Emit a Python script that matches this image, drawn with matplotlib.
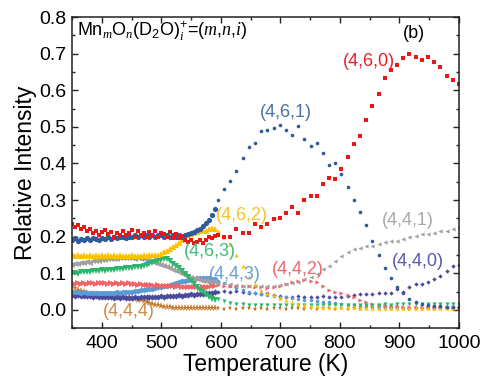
import numpy as np
import matplotlib
matplotlib.use("Agg")
import matplotlib.pyplot as plt

plt.rcParams['font.family'] = ['Liberation Sans', 'DejaVu Sans']
plt.rcParams['mathtext.fontset'] = 'custom'
plt.rcParams['mathtext.rm'] = 'Liberation Sans'
plt.rcParams['mathtext.it'] = 'Liberation Serif:italic'

# Temperature grids (K): dense low-T scan and sparse high-T scan
T_dense = np.arange(350, 591, 5)
T_sparse = np.linspace(595, 1000, 40)

# (4,6,0)
red_d = [0.235,0.225,0.232,0.22,0.226,0.215,0.222,0.21,0.216,0.205,
         0.212,0.218,0.206,0.212,0.2,0.211,0.205,0.216,0.204,0.21,
         0.217,0.2,0.214,0.205,0.21,0.2,0.212,0.204,0.216,0.2,
         0.21,0.206,0.2,0.212,0.196,0.206,0.196,0.202,0.19,0.186,
         0.19,0.182,0.186,0.19,0.182,0.19,0.2,0.196,0.202]
red_s = [0.205,0.2,0.2,0.22,0.21,0.21,0.235,0.225,0.235,0.248,
         0.25,0.265,0.28,0.265,0.3,0.31,0.312,0.343,0.36,0.358,
         0.385,0.418,0.454,0.474,0.518,0.557,0.59,0.632,0.655,0.67,
         0.688,0.698,0.69,0.682,0.69,0.677,0.664,0.638,0.627,0.616]
# (4,6,1)
blue_d = [0.19,0.195,0.188,0.194,0.19,0.196,0.19,0.195,0.193,0.19,
          0.195,0.194,0.198,0.194,0.2,0.195,0.199,0.2,0.196,0.2,
          0.2,0.204,0.2,0.205,0.2,0.204,0.2,0.205,0.2,0.204,
          0.205,0.2,0.205,0.2,0.204,0.2,0.205,0.2,0.205,0.208,
          0.21,0.213,0.218,0.222,0.228,0.236,0.245,0.26,0.275]
blue_s = [0.3,0.33,0.352,0.378,0.416,0.445,0.457,0.488,0.492,0.497,
          0.506,0.492,0.478,0.501,0.468,0.448,0.457,0.429,0.397,0.4,
          0.37,0.335,0.3,0.267,0.232,0.189,0.151,0.113,0.086,0.061,
          0.045,0.029,0.02,0.015,0.012,0.01,0.01,0.008,0.008,0.008]
# (4,6,2)
yellow_d = [0.152,0.148,0.15,0.146,0.15,0.148,0.151,0.147,0.15,0.148,
            0.151,0.147,0.149,0.146,0.15,0.147,0.149,0.146,0.148,0.147,
            0.149,0.146,0.148,0.147,0.149,0.148,0.15,0.149,0.15,0.151,
            0.153,0.157,0.162,0.167,0.172,0.177,0.183,0.19,0.197,0.204,
            0.208,0.21,0.213,0.216,0.218,0.215,0.22,0.224,0.222]
yellow_s = [0.215,0.2,0.18,0.15,0.12,0.09,0.07,0.055,0.045,0.04,
            0.032,0.026,0.02,0.016,0.013,0.011,0.01,0.009,0.008,0.008,
            0.007,0.007,0.007,0.006,0.006,0.006,0.006,0.005,0.005,0.005,
            0.005,0.005,0.005,0.005,0.005,0.005,0.005,0.005,0.005,0.005]
# (4,6,3)
green_d = [0.1,0.101,0.099,0.103,0.102,0.104,0.103,0.106,0.105,0.107,
           0.108,0.107,0.109,0.11,0.109,0.111,0.112,0.111,0.113,0.114,
           0.115,0.116,0.117,0.118,0.12,0.122,0.124,0.127,0.13,0.133,
           0.136,0.14,0.138,0.133,0.126,0.12,0.113,0.106,0.098,0.09,
           0.08,0.07,0.062,0.055,0.048,0.04,0.034,0.03,0.027]
green_s = [0.03,0.024,0.019,0.016,0.015,0.014,0.014,0.013,0.013,0.012,
           0.013,0.012,0.012,0.013,0.012,0.012,0.013,0.012,0.012,0.013,
           0.013,0.012,0.013,0.014,0.013,0.014,0.014,0.015,0.014,0.015,
           0.015,0.016,0.015,0.016,0.016,0.015,0.016,0.016,0.017,0.016]
# (4,4,1)
gray_d = [0.122,0.125,0.124,0.128,0.127,0.13,0.129,0.132,0.133,0.134,
          0.136,0.137,0.138,0.139,0.14,0.14,0.141,0.142,0.141,0.142,
          0.141,0.14,0.141,0.139,0.138,0.136,0.134,0.132,0.129,0.126,
          0.122,0.119,0.116,0.114,0.11,0.106,0.102,0.098,0.094,0.09,
          0.087,0.085,0.083,0.081,0.08,0.078,0.077,0.076,0.075]
gray_s = [0.074,0.072,0.07,0.068,0.066,0.065,0.064,0.064,0.065,0.066,
          0.068,0.07,0.073,0.077,0.083,0.09,0.099,0.112,0.12,0.134,
          0.148,0.157,0.166,0.17,0.175,0.175,0.18,0.184,0.189,0.189,
          0.193,0.198,0.203,0.207,0.207,0.21,0.216,0.216,0.222,0.225]
# (4,4,2)
pink_d = [0.072,0.07,0.074,0.071,0.073,0.07,0.074,0.072,0.071,0.073,
          0.072,0.074,0.071,0.073,0.07,0.072,0.071,0.073,0.07,0.072,
          0.07,0.071,0.069,0.07,0.068,0.069,0.067,0.068,0.066,0.067,
          0.066,0.065,0.066,0.064,0.065,0.063,0.064,0.062,0.063,0.062,
          0.063,0.061,0.062,0.06,0.062,0.061,0.063,0.064,0.066]
pink_s = [0.068,0.066,0.065,0.064,0.065,0.064,0.062,0.062,0.06,0.062,
          0.066,0.07,0.076,0.08,0.082,0.08,0.075,0.065,0.055,0.05,
          0.045,0.04,0.035,0.028,0.022,0.017,0.013,0.012,0.01,0.01,
          0.009,0.009,0.008,0.008,0.008,0.007,0.007,0.007,0.007,0.006]
# (4,4,3)
lblue_d = [0.05,0.048,0.049,0.047,0.048,0.046,0.047,0.045,0.046,0.045,
           0.046,0.045,0.046,0.047,0.046,0.048,0.047,0.049,0.048,0.05,
           0.05,0.052,0.052,0.054,0.055,0.056,0.057,0.058,0.06,0.061,
           0.062,0.064,0.066,0.068,0.07,0.073,0.075,0.078,0.08,0.082,
           0.084,0.085,0.086,0.087,0.088,0.087,0.086,0.085,0.083]
lblue_s = [0.078,0.072,0.066,0.06,0.055,0.05,0.046,0.043,0.04,0.038,
           0.036,0.034,0.032,0.03,0.028,0.026,0.024,0.022,0.02,0.018,
           0.016,0.014,0.012,0.011,0.01,0.009,0.008,0.008,0.007,0.007,
           0.006,0.006,0.006,0.005,0.005,0.005,0.005,0.005,0.005,0.005]
# (4,4,0)
purple_d = [0.04,0.039,0.04,0.038,0.039,0.037,0.038,0.036,0.037,0.035,
            0.036,0.035,0.034,0.035,0.033,0.034,0.033,0.034,0.032,0.033,
            0.033,0.034,0.033,0.034,0.035,0.034,0.035,0.036,0.035,0.036,
            0.037,0.036,0.038,0.037,0.039,0.038,0.04,0.039,0.041,0.04,
            0.042,0.041,0.043,0.044,0.043,0.045,0.046,0.047,0.048]
purple_s = [0.05,0.052,0.05,0.052,0.048,0.045,0.047,0.044,0.045,0.04,
            0.038,0.035,0.036,0.037,0.035,0.036,0.035,0.037,0.036,0.034,
            0.035,0.038,0.04,0.044,0.042,0.044,0.045,0.045,0.047,0.057,
            0.05,0.063,0.07,0.07,0.075,0.085,0.093,0.107,0.12,0.123]
# (4,4,4)
orange_d = [0.065,0.06,0.055,0.051,0.048,0.046,0.044,0.043,0.042,0.041,
            0.04,0.04,0.039,0.038,0.038,0.037,0.037,0.036,0.036,0.034,
            0.032,0.03,0.028,0.026,0.023,0.021,0.018,0.016,0.014,0.012,
            0.01,0.009,0.008,0.007,0.006,0.006,0.005,0.005,0.005,0.004,
            0.004,0.004,0.004,0.004,0.004,0.004,0.004,0.004,0.004]
orange_s = [0.004,0.003,0.004,0.003,0.004,0.004,0.003,0.004,0.003,0.004,
            0.004,0.003,0.004,0.004,0.003,0.004,0.003,0.004,0.004,0.003,
            0.004,0.003,0.004,0.003,0.004,0.004,0.003,0.004,0.003,0.004,
            0.004,0.003,0.004,0.003,0.004,0.003,0.004,0.004,0.003,0.004]

labels = ['(4,4,4)', '(4,4,0)', '(4,4,3)', '(4,4,2)', '(4,4,1)',
          '(4,6,3)', '(4,6,2)', '(4,6,1)', '(4,6,0)']
series = [(orange_d, orange_s), (purple_d, purple_s), (lblue_d, lblue_s),
          (pink_d, pink_s), (gray_d, gray_s), (green_d, green_s),
          (yellow_d, yellow_s), (blue_d, blue_s), (red_d, red_s)]
colors = ['#C8772A', '#4A4A9C', '#5B9BD5', '#F06468', '#A0A0A0',
          '#2DB56A', '#FFC000', '#2E5C9A', '#F01515']
markers = ['*', 'D', 'h', '>', '<', 'v', '^', 'o', 's']
msize = [3.6, 2.2, 2.8, 3.0, 3.0, 3.0, 3.0, 2.6, 2.4]

label_colors = ['#D08A45', '#5A58A8', '#6AA0D8', '#EE6A6E', '#A8A8A8',
                '#3DBE78', '#F7C22A', '#4A72A8', '#E8202A']
label_pos = [(446, -0.005), (931, 0.131), (624, 0.097), (729, 0.111), (914, 0.245),
             (581, 0.158), (635, 0.258), (709, 0.539), (848, 0.678)]

fig = plt.figure(figsize=(4.81, 3.78), dpi=100)
ax = fig.add_axes([0.15, 0.132, 0.804, 0.823])

for (d, s), c, m, ms in zip(series, colors, markers, msize):
    ax.plot(T_dense, d, linestyle='none', marker=m, color=c,
            markersize=ms * 1.45, markeredgewidth=0)
    ax.plot(T_sparse, s, linestyle='none', marker=m, color=c,
            markersize=ms, markeredgewidth=0)

for lab, c, (x, y) in zip(labels, label_colors, label_pos):
    ax.text(x, y, lab, color=c, fontsize=13, ha='center', va='center')

ax.text(0.012, 0.955, r'Mn$_{m}$O$_{n}$(D$_2$O)$_{i}^{+}$=($m$,$n$,$i$)',
        transform=ax.transAxes, fontsize=13, ha='left', va='center')
ax.text(925, 0.755, '(b)', fontsize=13, ha='center', va='center')

ax.set_xlim(350, 1000)
ax.set_ylim(-0.05, 0.8)
ax.set_xticks([400, 500, 600, 700, 800, 900, 1000])
ax.set_xticks(np.arange(350, 1001, 50), minor=True)
ax.set_yticks(np.arange(0, 0.81, 0.1))
ax.set_yticks(np.arange(-0.05, 0.81, 0.05), minor=True)
ax.set_yticklabels(['%.1f' % v for v in np.arange(0, 0.81, 0.1)])
ax.tick_params(which='both', direction='in', top=True, right=True,
               labelsize=14, width=1.0, color='#222222')
ax.tick_params(which='major', length=4.5)
ax.tick_params(which='minor', length=2.5)
ax.tick_params(axis='x', pad=5)
ax.tick_params(axis='y', pad=4)
for sp in ax.spines.values():
    sp.set_linewidth(1.1)
    sp.set_color('#222222')
ax.set_xlabel('Temperature (K)', fontsize=16.5, labelpad=1)
ax.set_ylabel('Relative Intensity', fontsize=16.5, labelpad=2)

fig.savefig('out.png', dpi=100)
